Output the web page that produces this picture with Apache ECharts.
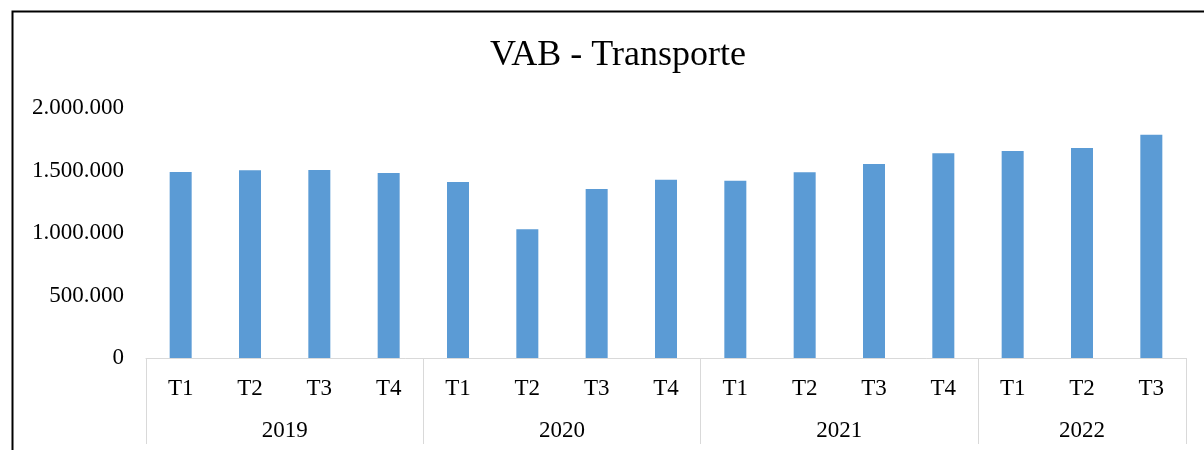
<!DOCTYPE html>
<html>

<head>
    <meta charset="UTF-8">
    <style type="text/css">
        body {
            margin: 0;
            padding: 0;
            overflow: hidden;
            background: #fff
        }

        #chart {
            width: 1204px;
            height: 450px;
        }
    </style>
</head>

<body>
    <div id="chart"></div>
    <script src="https://cdn.jsdelivr.net/npm/echarts@6/dist/echarts.min.js"></script>
    <script>
        let QUARTERS = ['T1', 'T2', 'T3', 'T4', 'T1', 'T2', 'T3', 'T4', 'T1', 'T2', 'T3', 'T4', 'T1', 'T2', 'T3'];
        let YEARS = ['2019', '2020', '2021', '2022'];
        let YEAR_SPANS = [4, 4, 4, 3];
        let VALUES = [1488000, 1502000, 1504000, 1480000,
            1408000, 1031000, 1352000, 1427000,
            1419000, 1486000, 1553000, 1639000,
            1657000, 1681000, 1786000];
        let Y_TICKS = [0, 500000, 1000000, 1500000, 2000000];

        let FONT = "'Liberation Serif', 'Times New Roman', serif";

        // year axis on half-quarter steps: ticks at group edges, label at group middle
        let halfCats = [];
        let edgeIdx = [0];
        let labelIdx = {};
        let pos = 0;
        for (let i = 0; i < 2 * QUARTERS.length + 1; i++) halfCats.push('');
        YEARS.forEach((y, i) => {
            let mid = pos + YEAR_SPANS[i];
            halfCats[mid] = y;
            labelIdx[mid] = true;
            pos += YEAR_SPANS[i] * 2;
            edgeIdx.push(pos);
        });

        function fmt(v) {
            return v.toString().replace(/\B(?=(\d{3})+(?!\d))/g, '.');
        }

        var myChart = echarts.init(document.getElementById('chart'));

        let option = {
            animation: false,
            title: {
                text: 'VAB - Transporte',
                left: 613,
                top: 33,
                textAlign: 'center',
                textStyle: {
                    fontFamily: FONT,
                    fontSize: 36,
                    fontWeight: 'normal',
                    color: '#000'
                }
            },
            grid: {
                left: 146,
                right: 18,
                top: 108,
                bottom: 92
            },
            graphic: [{
                type: 'rect',
                shape: { x: 12.5, y: 11.5, width: 1300, height: 500 },
                style: { fill: 'none', stroke: '#000', lineWidth: 2 },
                silent: true
            }],
            xAxis: [
                {
                    type: 'category',
                    data: QUARTERS,
                    axisLine: { lineStyle: { color: '#d9d9d9', width: 1 } },
                    axisTick: { show: false },
                    axisLabel: {
                        interval: 0,
                        margin: 19,
                        fontFamily: FONT,
                        fontSize: 23,
                        color: '#000'
                    }
                },
                {
                    type: 'category',
                    position: 'bottom',
                    boundaryGap: false,
                    data: halfCats,
                    axisLine: { show: false },
                    axisTick: {
                        show: true,
                        length: 86,
                        interval: function (index) {
                            return edgeIdx.indexOf(index) >= 0;
                        },
                        lineStyle: { color: '#d9d9d9', width: 1 }
                    },
                    axisLabel: {
                        interval: function (index) {
                            return !!labelIdx[index];
                        },
                        margin: 61,
                        fontFamily: FONT,
                        fontSize: 23,
                        color: '#000'
                    }
                }
            ],
            yAxis: {
                type: 'value',
                min: Y_TICKS[0],
                max: Y_TICKS[Y_TICKS.length - 1],
                interval: 500000,
                axisLine: { show: false },
                axisTick: { show: false },
                splitLine: { show: false },
                axisLabel: {
                    margin: 22,
                    fontFamily: FONT,
                    fontSize: 23,
                    color: '#000',
                    formatter: fmt
                }
            },
            series: [
                {
                    type: 'bar',
                    xAxisIndex: 0,
                    data: VALUES,
                    barWidth: 22,
                    itemStyle: { color: '#5B9BD5' }
                }
            ]
        };
        myChart.setOption(option);
    </script>
</body>

</html>
